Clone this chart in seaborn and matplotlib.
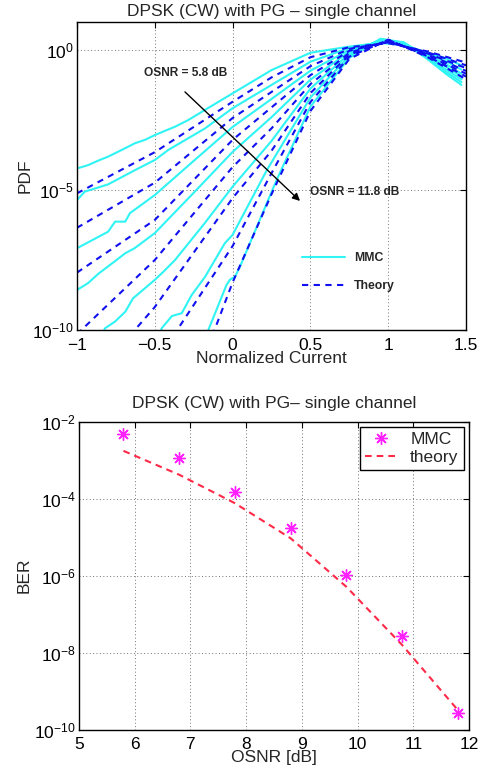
import numpy as np
import pandas as pd
import matplotlib
matplotlib.use("Agg")
import matplotlib.pyplot as plt
import seaborn as sns
from matplotlib.lines import Line2D
from matplotlib.ticker import FixedLocator, FixedFormatter, NullLocator, LogFormatterSciNotation

# ---------------- data (top panel: PDF, values given as log10) ----------------
osnr_cases = ["5.8", "6.8", "7.8", "8.8", "9.8", "10.8", "11.8"]

mmc_x_58 = [-1, -0.927, -0.863, -0.8, -0.734, -0.627, -0.563, -0.5, -0.37, -0.284, -0.177, 0, 0.25, 0.5, 0.75, 0.95, 1.1, 1.25, 1.37, 1.47]
mmc_l_58 = [-4.23, -4.11, -3.95, -3.81, -3.63, -3.33, -3.21, -3.04, -2.74, -2.5, -2.14, -1.55, -0.72, -0.10, 0.12, 0.25, 0.18, -0.10, -0.30, -0.55]

mmc_x_68 = [-1, -0.95, -0.8, -0.627, -0.5, -0.413, -0.177, 0, 0.25, 0.5, 0.75, 0.95, 1.1, 1.25, 1.37, 1.47]
mmc_l_68 = [-5.36, -5.06, -4.8, -4.29, -3.93, -3.57, -2.8, -2.08, -1.25, -0.42, 0.07, 0.28, 0.2, -0.15, -0.4, -0.7]

mmc_x_78 = [-1, -0.8, -0.755, -0.69, -0.66, -0.5, -0.25, 0, 0.25, 0.5, 0.75, 0.95, 1.1, 1.25, 1.37, 1.47]
mmc_l_78 = [-7.08, -6.49, -6.13, -6.13, -5.83, -5.18, -3.96, -2.75, -1.75, -0.74, 0.0, 0.31, 0.22, -0.2, -0.5, -0.85]

mmc_x_88 = [-1, -0.93, -0.86, -0.76, -0.69, -0.63, -0.5, -0.25, 0, 0.25, 0.5, 0.75, 0.95, 1.1, 1.25, 1.37, 1.47]
mmc_l_88 = [-8.57, -8.33, -7.98, -7.56, -7.26, -7.08, -6.54, -5.1, -3.64, -2.4, -1.06, -0.06, 0.34, 0.24, -0.22, -0.6, -0.95]

mmc_x_98 = [-0.84, -0.82, -0.756, -0.69, -0.64, -0.5, -0.445, -0.37, -0.18, 0, 0.25, 0.5, 0.75, 0.95, 1.1, 1.25, 1.37, 1.47]
mmc_l_98 = [-10.2, -9.94, -9.7, -9.35, -8.87, -8.21, -7.92, -7.5, -6.19, -4.88, -3.25, -1.38, -0.13, 0.36, 0.25, -0.25, -0.7, -1.05]

mmc_x_108 = [-0.47, -0.456, -0.39, -0.327, -0.263, -0.177, -0.05, 0, 0.22, 0.5, 0.75, 0.95, 1.1, 1.25, 1.37, 1.47]
mmc_l_108 = [-10.2, -9.94, -9.5, -9.4, -8.75, -8.1, -6.9, -6.6, -4.29, -1.7, -0.2, 0.38, 0.26, -0.28, -0.78, -1.15]

mmc_x_118 = [-0.17, -0.156, -0.04, -0.017, 0.015, 0.047, 0.283, 0.5, 0.75, 0.95, 1.1, 1.25, 1.37, 1.47]
mmc_l_118 = [-10.2, -10.0, -8.4, -8.2, -8.1, -7.74, -4.64, -2.02, -0.28, 0.4, 0.27, -0.32, -0.85, -1.25]

th_x_58 = [-1, -0.5, 0, 0.25, 0.5, 0.75, 1.0, 1.25, 1.5]
th_l_58 = [-5.12, -3.65, -1.85, -0.98, -0.26, 0.10, 0.24, -0.05, -0.45]
th_x_68 = [-1, -0.5, 0, 0.25, 0.5, 0.75, 1.0, 1.25, 1.5]
th_l_68 = [-6.35, -4.74, -2.43, -1.5, -0.58, 0.04, 0.27, -0.08, -0.55]
th_x_78 = [-1, -0.5, 0, 0.25, 0.5, 0.75, 1.0, 1.25, 1.5]
th_l_78 = [-7.95, -6.07, -3.21, -2.05, -0.9, -0.03, 0.30, -0.12, -0.65]
th_x_88 = [-1, -0.5, 0, 0.25, 0.5, 0.75, 1.0, 1.25, 1.5]
th_l_88 = [-10.15, -7.5, -4.18, -2.8, -1.22, -0.10, 0.32, -0.15, -0.75]
th_x_98 = [-0.66, -0.5, 0, 0.25, 0.5, 0.75, 1.0, 1.25, 1.5]
th_l_98 = [-10.2, -9.18, -5.29, -3.6, -1.54, -0.17, 0.34, -0.18, -0.85]
th_x_108 = [-0.38, 0, 0.25, 0.5, 0.75, 1.0, 1.25, 1.5]
th_l_108 = [-10.2, -7.0, -4.4, -1.86, -0.24, 0.36, -0.22, -0.95]
th_x_118 = [-0.13, 0, 0.25, 0.5, 0.75, 1.0, 1.25, 1.5]
th_l_118 = [-10.2, -8.3, -5.15, -2.18, -0.32, 0.37, -0.25, -1.05]

top_xticks = [-1, -0.5, 0, 0.5, 1, 1.5]
top_xticklabels = ["\u22121", "\u22120.5", "0", "0.5", "1", "1.5"]

# ---------------- data (bottom panel: BER vs OSNR) ----------------
ber_osnr = [5.8, 6.8, 7.8, 8.8, 9.8, 10.8, 11.8]
ber_mmc_log = [-2.32, -2.95, -3.83, -4.77, -5.98, -7.57, -9.56]
ber_theory_log = [-2.76, -3.38, -4.12, -5.03, -6.29, -7.8, -9.49]
bottom_xticks = [5, 6, 7, 8, 9, 10, 11, 12]

# ---------------- build tables ----------------
mmc_sets = [(mmc_x_58, mmc_l_58), (mmc_x_68, mmc_l_68), (mmc_x_78, mmc_l_78), (mmc_x_88, mmc_l_88),
            (mmc_x_98, mmc_l_98), (mmc_x_108, mmc_l_108), (mmc_x_118, mmc_l_118)]
th_sets = [(th_x_58, th_l_58), (th_x_68, th_l_68), (th_x_78, th_l_78), (th_x_88, th_l_88),
           (th_x_98, th_l_98), (th_x_108, th_l_108), (th_x_118, th_l_118)]

def to_frame(sets):
    rows = []
    for name, (xs, ls) in zip(osnr_cases, sets):
        for xv, lv in zip(xs, ls):
            rows.append({"osnr": name, "current": xv, "pdf": 10.0 ** lv})
    return pd.DataFrame(rows)

df_mmc = to_frame(mmc_sets)
df_th = to_frame(th_sets)
df_ber = pd.DataFrame({"osnr": ber_osnr,
                       "mmc": [10.0 ** v for v in ber_mmc_log],
                       "theory": [10.0 ** v for v in ber_theory_log]})

# ---------------- style ----------------
sns.set_style("white")
plt.rcParams["font.family"] = ["Liberation Sans", "DejaVu Sans"]
plt.rcParams["mathtext.fontset"] = "custom"
plt.rcParams["mathtext.rm"] = "Liberation Sans"
plt.rcParams["mathtext.it"] = "Liberation Sans:italic"
plt.rcParams["mathtext.bf"] = "Liberation Sans:bold"
plt.rcParams["axes.unicode_minus"] = True

FS = 12.5

fig = plt.figure(figsize=(4.84, 7.78), dpi=100)
ax1 = fig.add_axes([0.159, 0.5758, 0.804, 0.396])
ax2 = fig.add_axes([0.163, 0.0621, 0.806, 0.396])

grid_kw = dict(color="0.45", linestyle=(0, (1, 2.5)), linewidth=0.7)

def style_axes(ax, xpad=4):
    for s in ax.spines.values():
        s.set_color("black")
        s.set_linewidth(1.0)
        s.set_visible(True)
    ax.tick_params(axis="both", which="major", direction="in", length=4, width=0.8,
                   top=True, right=True, labelsize=FS, colors="black")
    ax.tick_params(axis="x", which="major", pad=xpad)
    ax.tick_params(axis="y", which="major", pad=2)
    ax.tick_params(axis="both", which="minor", length=0)

# ---------------- top panel ----------------
sns.lineplot(data=df_mmc, x="current", y="pdf", units="osnr", estimator=None, sort=False,
             color="#30f4f4", linewidth=1.5, ax=ax1, legend=False)
sns.lineplot(data=df_th, x="current", y="pdf", units="osnr", estimator=None, sort=False,
             color="#1010f0", linewidth=1.5, ax=ax1, legend=False, dashes=False,
             linestyle=(0, (3.0, 2.6)))
ax1.set_yscale("log")
ax1.set_xlim(-1, 1.5)
ax1.set_ylim(1e-10, 1e1)
ax1.xaxis.set_major_locator(FixedLocator(top_xticks))
ax1.xaxis.set_major_formatter(FixedFormatter(top_xticklabels))
ax1.yaxis.set_major_locator(FixedLocator([1e-10, 1e-5, 1e0]))
ax1.yaxis.set_major_formatter(LogFormatterSciNotation())
ax1.yaxis.set_minor_locator(NullLocator())
ax1.grid(True, **grid_kw)
style_axes(ax1, xpad=5.5)
ax1.set_xlabel("Normalized Current", fontsize=FS, labelpad=-1)
ax1.set_ylabel("PDF", fontsize=FS, labelpad=0)
ax1.set_title("DPSK (CW) with PG \u2013 single channel", fontsize=FS, pad=4)

ax1.annotate("", xy=(0.446, 10 ** -5.46), xytext=(-0.319, 10 ** -1.43),
             arrowprops=dict(arrowstyle="-|>", color="black", lw=1.0, mutation_scale=11))
ax1.text(-0.569, 10 ** -0.82, "OSNR = 5.8 dB", fontsize=8.6, fontweight="bold", va="center", ha="left")
ax1.text(0.497, 10 ** -5.07, "OSNR = 11.8 dB", fontsize=8.6, fontweight="bold", va="center", ha="left")

h1 = [Line2D([], [], color="#30f4f4", lw=1.5),
      Line2D([], [], color="#1010f0", lw=1.5, linestyle=(0, (3.0, 2.6)))]
ax1.legend(h1, ["MMC", "Theory"], loc="upper left", bbox_to_anchor=(0.578, 0.252),
           frameon=False, prop=dict(weight="bold", size=8.8), handlelength=3.5,
           handletextpad=0.75, labelspacing=1.3, borderpad=0, borderaxespad=0)

# ---------------- bottom panel ----------------
sns.lineplot(data=df_ber, x="osnr", y="theory", color="#ff2a48", linewidth=1.5,
             linestyle=(0, (3.2, 2.4)), ax=ax2, label="theory", legend=False)
sns.scatterplot(data=df_ber, x="osnr", y="mmc", marker=(8, 2, 0), color="#ff22ff",
                s=70, linewidth=1.0, ax=ax2, label="MMC", legend=False, zorder=3)
ax2.set_yscale("log")
ax2.set_xlim(5, 12)
ax2.set_ylim(1e-10, 1e-2)
ax2.xaxis.set_major_locator(FixedLocator(bottom_xticks))
ax2.xaxis.set_major_formatter(FixedFormatter([str(v) for v in bottom_xticks]))
ax2.yaxis.set_major_locator(FixedLocator([1e-10, 1e-8, 1e-6, 1e-4, 1e-2]))
ax2.yaxis.set_major_formatter(LogFormatterSciNotation())
ax2.yaxis.set_minor_locator(NullLocator())
ax2.grid(True, **grid_kw)
style_axes(ax2, xpad=5)
ax2.set_xlabel("OSNR [dB]", fontsize=FS, labelpad=-1)
ax2.set_ylabel("BER", fontsize=FS, labelpad=2)
ax2.set_title("DPSK (CW) with PG\u2013 single channel", fontsize=FS, pad=10)

h2 = [Line2D([], [], marker=(8, 2, 0), color="#ff22ff", linestyle="none", markersize=9, markeredgewidth=1.0),
      Line2D([], [], color="#ff2a48", lw=1.5, linestyle=(0, (3.2, 2.4)))]
leg = ax2.legend(h2, ["MMC", "theory"], loc="upper right", fontsize=FS, frameon=True,
                 fancybox=False, framealpha=1, edgecolor="black", handlelength=1.8,
                 handletextpad=0.8, labelspacing=0.15, borderpad=0.3, borderaxespad=0.3)
leg.get_frame().set_linewidth(1.0)

fig.savefig("out.png", dpi=100)
